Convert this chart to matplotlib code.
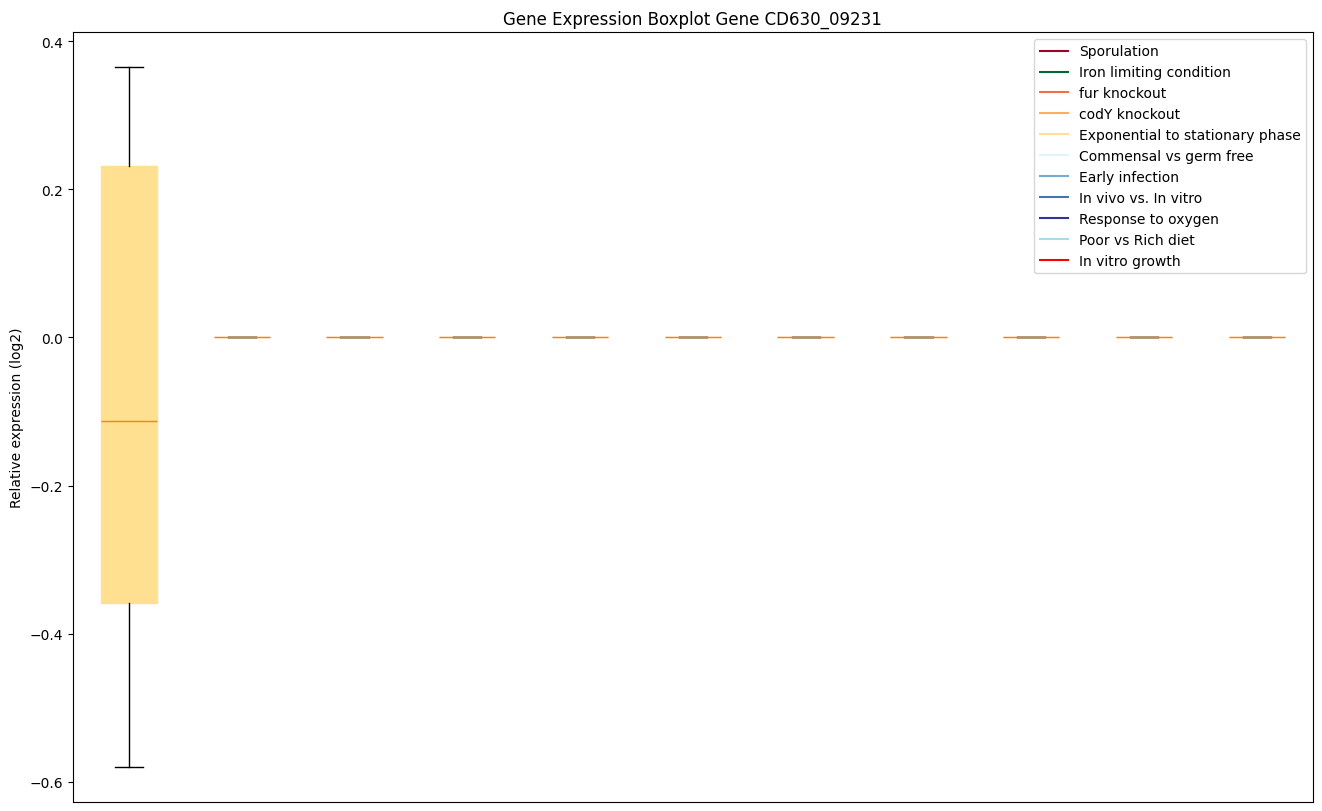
import matplotlib
matplotlib.use('Agg')
import matplotlib.pyplot as plt
from matplotlib.lines import Line2D

# condizioni sperimentali e colori della legenda
condizioni = ['Sporulation', 'Iron limiting condition', 'fur knockout', 'codY knockout',
              'Exponential to stationary phase', 'Commensal vs germ free', 'Early infection',
              'In vivo vs. In vitro', 'Response to oxygen', 'Poor vs Rich diet', 'In vitro growth']
colori = ['#a50026', '#006837', '#f46d43', '#fdae61', '#fee090', '#e0f3f8',
          '#74add1', '#4575b4', '#313695', '#abd9e9', 'red']

# valori di espressione (log2) per ogni box
valori = [
    [-0.58, -0.358, -0.113, 0.231, 0.365],
    [0.0], [0.0], [0.0], [0.0], [0.0], [0.0], [0.0], [0.0], [0.0], [0.0],
]
colore_box = '#fee090'

fig = plt.figure(figsize=(13.22, 8.12), dpi=100)
ax = fig.add_subplot(111)
fig.subplots_adjust(left=0.0549, right=0.9933, top=0.9594, bottom=0.011)

bp = ax.boxplot(valori, patch_artist=True)
for box in bp['boxes']:
    box.set_facecolor(colore_box)
    box.set_edgecolor(colore_box)

handles = [Line2D([0], [0], color=c, lw=1.5) for c in colori]
ax.legend(handles, condizioni, loc='upper right')

ax.set_xticks([])
ax.set_title('Gene Expression Boxplot Gene CD630_09231')
ax.set_ylabel('Relative expression (log2)')

plt.savefig('out.png', dpi=100)
